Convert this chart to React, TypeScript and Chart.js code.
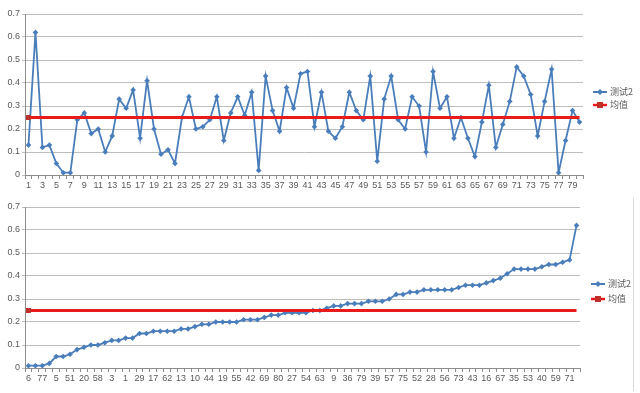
import React, { useEffect, useRef } from 'react';
import { Chart, registerables } from 'chart.js';

Chart.register(...registerables);

// ---- DATA ----
const SERIES_NAME = '测试2';
const MEAN_NAME = '均值';
const MEAN_VALUE = 0.25;

const topCategories = [
  '1','2','3','4','5','6','7','8','9','10','11','12','13','14','15','16','17','18','19','20',
  '21','22','23','24','25','26','27','28','29','30','31','32','33','34','35','36','37','38','39','40',
  '41','42','43','44','45','46','47','48','49','50','51','52','53','54','55','56','57','58','59','60',
  '61','62','63','64','65','66','67','68','69','70','71','72','73','74','75','76','77','78','79','80',
];

const topValues = [
  0.13, 0.62, 0.12, 0.13, 0.05, 0.01, 0.01, 0.24, 0.27, 0.18,
  0.20, 0.10, 0.17, 0.33, 0.29, 0.37, 0.16, 0.41, 0.20, 0.09,
  0.11, 0.05, 0.25, 0.34, 0.20, 0.21, 0.24, 0.34, 0.15, 0.27,
  0.34, 0.26, 0.36, 0.02, 0.43, 0.28, 0.19, 0.38, 0.29, 0.44,
  0.45, 0.21, 0.36, 0.19, 0.16, 0.21, 0.36, 0.28, 0.24, 0.43,
  0.06, 0.33, 0.43, 0.24, 0.20, 0.34, 0.30, 0.10, 0.45, 0.29,
  0.34, 0.16, 0.25, 0.16, 0.08, 0.23, 0.39, 0.12, 0.22, 0.32,
  0.47, 0.43, 0.35, 0.17, 0.32, 0.46, 0.01, 0.15, 0.28, 0.23,
];

const sortedCategories = [
  '6','7','77','34','5','22','51','65','20','12',
  '58','21','3','68','1','4','29','78','17','45',
  '62','64','13','74','10','37','44','11','19','25',
  '55','26','42','46','69','66','80','8','27','49',
  '54','23','63','32','9','30','36','48','79','15',
  '39','60','57','70','75','14','52','24','28','31',
  '56','61','73','33','43','47','16','38','67','18',
  '35','50','53','72','40','41','59','76','71','2',
];

const sortedValues = [
  0.01, 0.01, 0.01, 0.02, 0.05, 0.05, 0.06, 0.08, 0.09, 0.10,
  0.10, 0.11, 0.12, 0.12, 0.13, 0.13, 0.15, 0.15, 0.16, 0.16,
  0.16, 0.16, 0.17, 0.17, 0.18, 0.19, 0.19, 0.20, 0.20, 0.20,
  0.20, 0.21, 0.21, 0.21, 0.22, 0.23, 0.23, 0.24, 0.24, 0.24,
  0.24, 0.25, 0.25, 0.26, 0.27, 0.27, 0.28, 0.28, 0.28, 0.29,
  0.29, 0.29, 0.30, 0.32, 0.32, 0.33, 0.33, 0.34, 0.34, 0.34,
  0.34, 0.34, 0.35, 0.36, 0.36, 0.36, 0.37, 0.38, 0.39, 0.41,
  0.43, 0.43, 0.43, 0.43, 0.44, 0.45, 0.45, 0.46, 0.47, 0.62,
];

const yTicks = [0, 0.1, 0.2, 0.3, 0.4, 0.5, 0.6, 0.7];

// ---- STYLE ----
const BLUE = '#4a7ebb';
const RED = '#e81a1a';
const RED_MARK = '#c0302a';
const GRID = '#bdbdbd';
const AXIS = '#8c8c8c';
const TEXT = '#595959';
const FONT = '"Liberation Sans", Arial, sans-serif';
const CJK = '"Noto Sans CJK SC", "Liberation Sans", sans-serif';

function makeLegendPlugin(yFirst: number, ySecond: number, x0: number, border: boolean) {
  return {
    id: 'customLegend',
    afterDraw(chart: any) {
      const ctx = chart.ctx as CanvasRenderingContext2D;
      ctx.save();
      ctx.strokeStyle = BLUE;
      ctx.lineWidth = 2;
      ctx.beginPath();
      ctx.moveTo(x0, yFirst);
      ctx.lineTo(x0 + 14, yFirst);
      ctx.stroke();
      ctx.fillStyle = BLUE;
      ctx.beginPath();
      const cx = x0 + 7;
      ctx.moveTo(cx, yFirst - 3);
      ctx.lineTo(cx + 3, yFirst);
      ctx.lineTo(cx, yFirst + 3);
      ctx.lineTo(cx - 3, yFirst);
      ctx.closePath();
      ctx.fill();
      ctx.strokeStyle = RED;
      ctx.lineWidth = 2.5;
      ctx.beginPath();
      ctx.moveTo(x0, ySecond);
      ctx.lineTo(x0 + 14, ySecond);
      ctx.stroke();
      ctx.fillStyle = RED_MARK;
      ctx.fillRect(cx - 3, ySecond - 3, 6, 6);
      ctx.fillStyle = TEXT;
      ctx.font = `9px ${CJK}`;
      ctx.textBaseline = 'middle';
      ctx.textAlign = 'left';
      ctx.fillText(SERIES_NAME, x0 + 17, yFirst);
      ctx.fillText(MEAN_NAME, x0 + 17, ySecond);
      if (border) {
        ctx.strokeStyle = '#d9d9d9';
        ctx.lineWidth = 1;
        ctx.beginPath();
        ctx.moveTo(633.5, 3);
        ctx.lineTo(633.5, chart.height - 2);
        ctx.stroke();
      }
      ctx.restore();
    },
  };
}

function buildConfig(labels: string[], values: number[], pad: { top: number; right: number }, xHeight: number, legend: any) {
  const meanSeries = labels.map(() => MEAN_VALUE);
  return {
    type: 'line' as const,
    data: {
      labels,
      datasets: [
        {
          label: MEAN_NAME,
          data: meanSeries,
          borderColor: RED,
          backgroundColor: RED_MARK,
          borderWidth: 3,
          pointStyle: 'rect',
          pointRadius: (c: any) => (c.dataIndex === 0 ? 3.5 : 0),
          pointBackgroundColor: RED_MARK,
          pointBorderColor: RED_MARK,
          pointBorderWidth: 0,
          order: 0,
        },
        {
          label: SERIES_NAME,
          data: values,
          borderColor: BLUE,
          backgroundColor: BLUE,
          borderWidth: 1.8,
          pointStyle: 'rectRot',
          pointRadius: 2.8,
          pointBackgroundColor: BLUE,
          pointBorderColor: BLUE,
          pointBorderWidth: 0,
          tension: 0,
          order: 1,
        },
      ],
    },
    options: {
      responsive: false,
      animation: false,
      events: [],
      layout: { padding: { top: pad.top, right: pad.right, left: 0, bottom: 0 } },
      plugins: { legend: { display: false }, tooltip: { enabled: false } },
      scales: {
        x: {
          type: 'category',
          offset: true,
          grid: {
            display: true,
            offset: true,
            drawOnChartArea: false,
            drawTicks: true,
            tickLength: 4,
            color: AXIS,
          },
          border: { display: true, color: AXIS, width: 1 },
          ticks: {
            autoSkip: false,
            maxRotation: 0,
            minRotation: 0,
            padding: 1,
            color: TEXT,
            font: { family: FONT, size: 9 },
            callback: (_v: any, i: number) => (i % 2 === 0 ? labels[i] : ''),
          },
          afterFit: (s: any) => {
            s.height = xHeight;
          },
        },
        y: {
          min: yTicks[0],
          max: yTicks[yTicks.length - 1],
          afterBuildTicks: (s: any) => {
            s.ticks = yTicks.map((v) => ({ value: v }));
          },
          grid: { color: GRID, lineWidth: 1, tickLength: 3, drawTicks: true },
          border: { display: true, color: AXIS, width: 1 },
          ticks: {
            padding: 2,
            color: TEXT,
            font: { family: FONT, size: 9 },
            callback: (v: any) => (v === 0 ? '0' : Number(v).toFixed(1)),
          },
          afterFit: (s: any) => {
            s.width = 25;
          },
        },
      },
    },
    plugins: [legend],
  };
}

function LineChart(props: {
  labels: string[];
  values: number[];
  width: number;
  height: number;
  top: number;
  right: number;
  xHeight: number;
  legendY: [number, number];
  legendX: number;
  border: boolean;
}) {
  const ref = useRef<HTMLCanvasElement | null>(null);
  useEffect(() => {
    if (!ref.current) return;
    const cfg: any = buildConfig(
      props.labels,
      props.values,
      { top: props.top, right: props.right },
      props.xHeight,
      makeLegendPlugin(props.legendY[0], props.legendY[1], props.legendX, props.border)
    );
    const chart = new Chart(ref.current, cfg);
    return () => chart.destroy();
  }, []);
  return <canvas ref={ref} width={props.width} height={props.height} style={{ display: 'block', width: props.width, height: props.height }} />;
}

export default function App() {
  return (
    <div style={{ position: 'absolute', left: 0, top: 0, width: 640, height: 393, background: '#ffffff' }}>
      <div style={{ position: 'absolute', left: 0, top: 0 }}>
        <LineChart
          labels={topCategories}
          values={topValues}
          width={640}
          height={195}
          top={14}
          right={57}
          xHeight={20}
          legendY={[92, 105]}
          legendX={593}
          border={false}
        />
      </div>
      <div style={{ position: 'absolute', left: 0, top: 195 }}>
        <LineChart
          labels={sortedCategories}
          values={sortedValues}
          width={640}
          height={198}
          top={12}
          right={60}
          xHeight={25}
          legendY={[89, 104]}
          legendX={591}
          border={true}
        />
      </div>
    </div>
  );
}
